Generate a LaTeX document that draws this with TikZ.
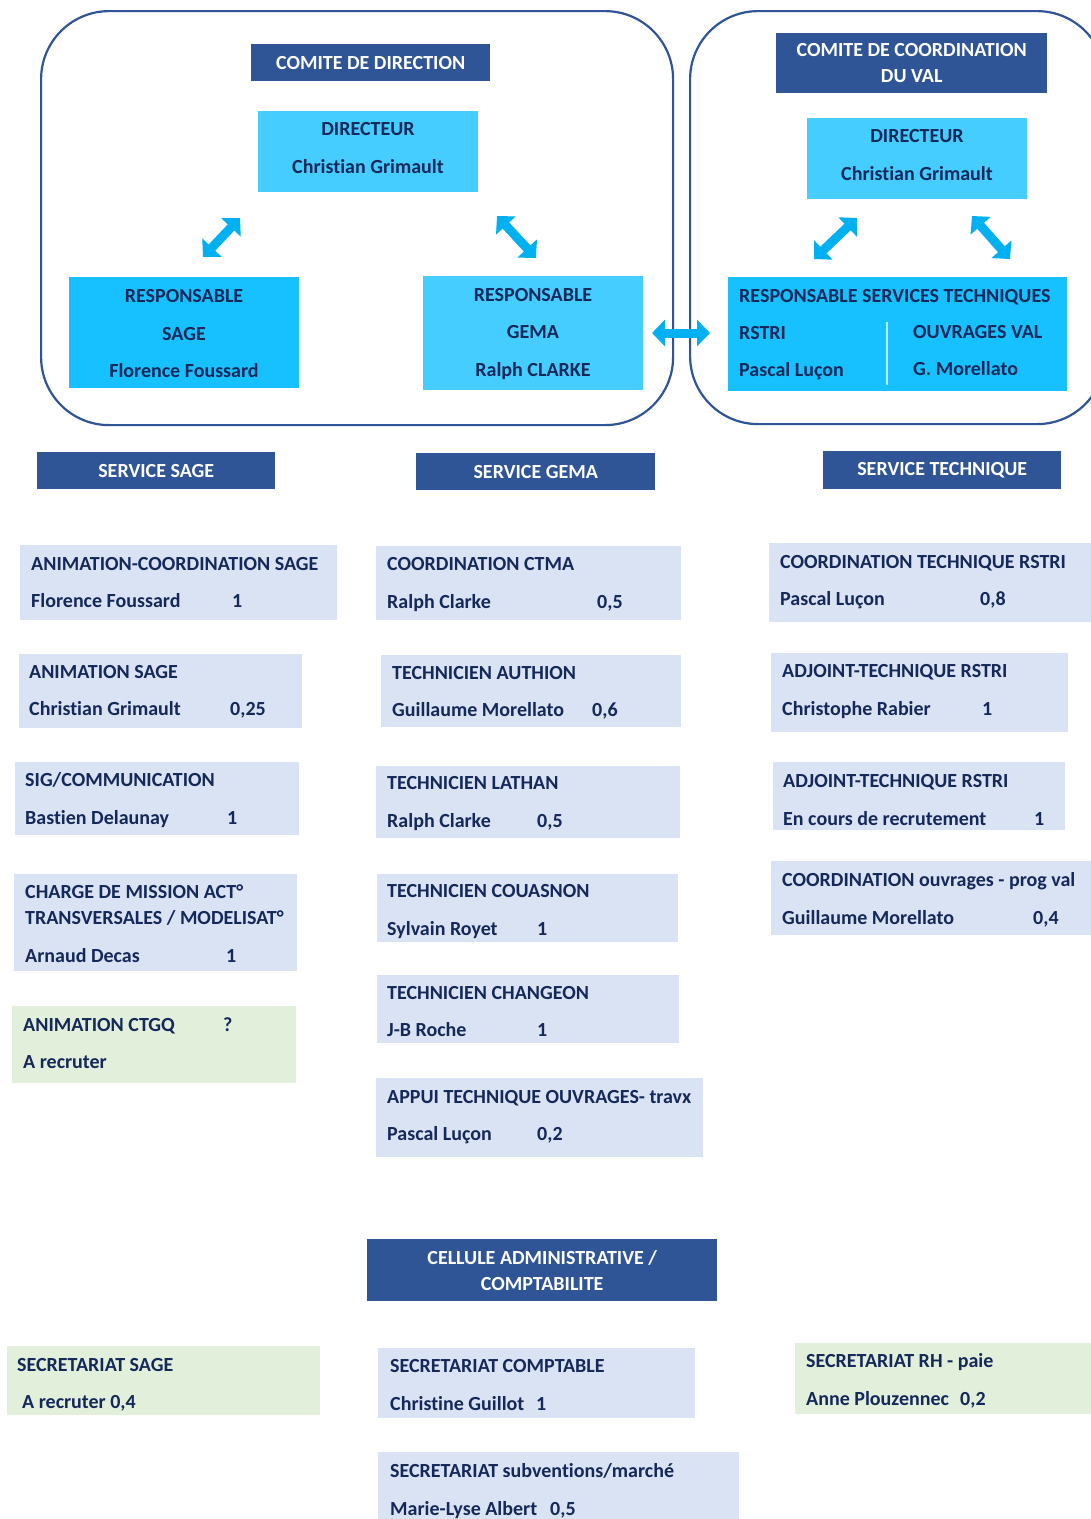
\documentclass[tikz,border=0pt]{standalone}
\usepackage{fontspec}
\setmainfont{Carlito}[Ligatures=NoCommon]
\usepackage{xcolor}
\usetikzlibrary{arrows.meta}
\definecolor{hdrblue}{HTML}{2F5597}
\definecolor{cyanlt}{HTML}{45CDFF}
\definecolor{cyanbr}{HTML}{17C1FF}
\definecolor{arrowblue}{HTML}{00B0F0}
\definecolor{jobblue}{HTML}{DAE3F3}
\definecolor{recgreen}{HTML}{E2EFDA}
\definecolor{navy}{HTML}{14285A}
\newcommand\orgfont{\bfseries\fontsize{20}{26}\selectfont}

\begin{document}
\begin{tikzpicture}[x=1pt,y=-1pt]
  \tikzset{frame/.style={draw=hdrblue,line width=2.2pt,rounded corners=68pt,anchor=north west,inner sep=0pt}}
  \tikzset{hdr/.style={fill=hdrblue,text=white,font=\orgfont,align=center,anchor=north west,inner sep=0pt}}
  \tikzset{orgbox/.style={anchor=north west,inner sep=0pt,outer sep=0pt}}
  \tikzset{lbl/.style={text=navy,font=\orgfont,inner sep=0pt,anchor=base west}}
  \tikzset{clbl/.style={text=navy,font=\orgfont,inner sep=0pt,anchor=base}}
  \tikzset{dblarrow/.style={draw=arrowblue,line width=9pt,{Triangle[width=26pt,length=13pt]}-{Triangle[width=26pt,length=13pt]}}}
  \useasboundingbox (0,0) rectangle (1091,1519);
  \fill[white] (0,0) rectangle (1091,1519);

  \node[frame,minimum width=632pt,minimum height=414pt] (fdir) at (40,10) {};
  \node[frame,minimum width=415pt,minimum height=413pt] (fval) at (689,10) {};

  \node[hdr,minimum width=239pt,minimum height=37pt] (hdir) at (251,44) {COMITE DE DIRECTION};
  \node[orgbox,fill=cyanlt,minimum width=220pt,minimum height=81pt] (dir1) at (258,111) {};
  \node[clbl] (dir1a) at (368,135) {DIRECTEUR};
  \node[clbl] (dir1b) at (368,173) {Christian Grimault};
  \node[orgbox,fill=cyanbr,minimum width=230pt,minimum height=111pt] (rsage) at (69,277) {};
  \node[clbl] (rsagea) at (184,302) {RESPONSABLE};
  \node[clbl] (rsageb) at (184,340) {SAGE};
  \node[clbl] (rsagec) at (184,377) {Florence Foussard};
  \node[orgbox,fill=cyanlt,minimum width=220pt,minimum height=114pt] (rgema) at (423,276) {};
  \node[clbl] (rgemaa) at (533,301) {RESPONSABLE};
  \node[clbl] (rgemab) at (533,338) {GEMA};
  \node[clbl] (rgemac) at (533,376) {Ralph CLARKE};

  \node[hdr,minimum width=271pt,minimum height=60pt] (hval) at (776,33) {COMITE DE COORDINATION\\DU VAL};
  \node[orgbox,fill=cyanlt,minimum width=220pt,minimum height=81pt] (dir2) at (807,118) {};
  \node[clbl] (dir2a) at (917,142) {DIRECTEUR};
  \node[clbl] (dir2b) at (917,180) {Christian Grimault};
  \node[orgbox,fill=cyanbr,minimum width=339pt,minimum height=114pt] (rtech) at (728,277) {};
  \node[lbl] (rtecha) at (739,302) {RESPONSABLE SERVICES TECHNIQUES};
  \node[lbl] (rtechb) at (739,339) {RSTRI};
  \node[lbl] (rtechc) at (739,376) {Pascal Luçon};
  \node[lbl] (rtechd) at (913,338) {OUVRAGES VAL};
  \node[lbl] (rteche) at (913,375) {G. Morellato};
  \draw[draw=white!70!cyanbr,line width=1.5pt] (887,322) -- (887,385);

  \coordinate (a1s) at (203,257);
  \coordinate (a1e) at (240,218);
  \coordinate (a2s) at (497,216);
  \coordinate (a2e) at (536,258);
  \coordinate (a3s) at (814,259);
  \coordinate (a3e) at (857,218);
  \coordinate (a4s) at (972,216);
  \coordinate (a4e) at (1010,259);
  \draw[dblarrow] (a1s) -- (a1e);
  \draw[dblarrow] (a2s) -- (a2e);
  \draw[dblarrow] (a3s) -- (a3e);
  \draw[dblarrow] (a4s) -- (a4e);
  \draw[dblarrow,shorten <=9pt,shorten >=18pt] (rgema.east) -- (rgema.east -| rtech.west);

  \node[hdr,minimum width=238pt,minimum height=37pt] (ssage) at (37,452) {SERVICE SAGE};
  \node[hdr,minimum width=239pt,minimum height=37pt] (sgema) at (416,453) {SERVICE GEMA};
  \node[hdr,minimum width=238pt,minimum height=38pt] (stech) at (823,451) {SERVICE TECHNIQUE};

  \node[orgbox,fill=jobblue,minimum width=317pt,minimum height=75pt] (j1) at (20,545) {};
  \node[lbl] (j1a) at (31,570) {ANIMATION-COORDINATION SAGE};
  \node[lbl] (j1b) at (31,607) {Florence Foussard};
  \node[lbl] (j1c) at (232,607) {1};
  \node[orgbox,fill=jobblue,minimum width=283pt,minimum height=74pt] (j2) at (19,654) {};
  \node[lbl] (j2a) at (29,678) {ANIMATION SAGE};
  \node[lbl] (j2b) at (29,715) {Christian Grimault};
  \node[lbl] (j2c) at (230,715) {0,25};
  \node[orgbox,fill=jobblue,minimum width=284pt,minimum height=73pt] (j3) at (15,762) {};
  \node[lbl] (j3a) at (25,786) {SIG/COMMUNICATION};
  \node[lbl] (j3b) at (25,824) {Bastien Delaunay};
  \node[lbl] (j3c) at (227,824) {1};
  \node[orgbox,fill=jobblue,minimum width=283pt,minimum height=97pt] (j4) at (14,874) {};
  \node[lbl] (j4a) at (25,898) {CHARGE DE MISSION ACT°};
  \node[lbl] (j4b) at (25,924) {TRANSVERSALES / MODELISAT°};
  \node[lbl] (j4c) at (25,962) {Arnaud Decas};
  \node[lbl] (j4d) at (226,962) {1};
  \node[orgbox,fill=recgreen,minimum width=284pt,minimum height=77pt] (j5) at (12,1006) {};
  \node[lbl] (j5a) at (23,1031) {ANIMATION CTGQ};
  \node[lbl] (j5b) at (223,1031) {?};
  \node[lbl] (j5c) at (23,1068) {A recruter};

  \node[orgbox,fill=jobblue,minimum width=305pt,minimum height=74pt] (m1) at (376,546) {};
  \node[lbl] (m1a) at (387,570) {COORDINATION CTMA};
  \node[lbl] (m1b) at (387,608) {Ralph Clarke};
  \node[lbl] (m1c) at (597,608) {0,5};
  \node[orgbox,fill=jobblue,minimum width=300pt,minimum height=72pt] (m2) at (381,655) {};
  \node[lbl] (m2a) at (392,679) {TECHNICIEN AUTHION};
  \node[lbl] (m2b) at (392,716) {Guillaume Morellato};
  \node[lbl] (m2c) at (592,716) {0,6};
  \node[orgbox,fill=jobblue,minimum width=304pt,minimum height=72pt] (m3) at (376,766) {};
  \node[lbl] (m3a) at (387,789) {TECHNICIEN LATHAN};
  \node[lbl] (m3b) at (387,827) {Ralph Clarke};
  \node[lbl] (m3c) at (537,827) {0,5};
  \node[orgbox,fill=jobblue,minimum width=301pt,minimum height=68pt] (m4) at (377,874) {};
  \node[lbl] (m4a) at (387,897) {TECHNICIEN COUASNON};
  \node[lbl] (m4b) at (387,935) {Sylvain Royet};
  \node[lbl] (m4c) at (537,935) {1};
  \node[orgbox,fill=jobblue,minimum width=302pt,minimum height=68pt] (m5) at (377,975) {};
  \node[lbl] (m5a) at (387,999) {TECHNICIEN CHANGEON};
  \node[lbl] (m5b) at (387,1036) {J-B Roche};
  \node[lbl] (m5c) at (537,1036) {1};
  \node[orgbox,fill=jobblue,minimum width=327pt,minimum height=79pt] (m6) at (376,1078) {};
  \node[lbl] (m6a) at (387,1103) {APPUI TECHNIQUE OUVRAGES- travx};
  \node[lbl] (m6b) at (387,1140) {Pascal Luçon};
  \node[lbl] (m6c) at (537,1140) {0,2};

  \node[orgbox,fill=jobblue,minimum width=330pt,minimum height=79pt] (r1) at (769,543) {};
  \node[lbl] (r1a) at (780,568) {COORDINATION TECHNIQUE RSTRI};
  \node[lbl] (r1b) at (780,605) {Pascal Luçon};
  \node[lbl] (r1c) at (980,605) {0,8};
  \node[orgbox,fill=jobblue,minimum width=297pt,minimum height=79pt] (r2) at (771,653) {};
  \node[lbl] (r2a) at (782,677) {ADJOINT-TECHNIQUE RSTRI};
  \node[lbl] (r2b) at (782,715) {Christophe Rabier};
  \node[lbl] (r2c) at (982,715) {1};
  \node[orgbox,fill=jobblue,minimum width=292pt,minimum height=68pt] (r3) at (773,762) {};
  \node[lbl] (r3a) at (783,787) {ADJOINT-TECHNIQUE RSTRI};
  \node[lbl] (r3b) at (783,825) {En cours de recrutement};
  \node[lbl] (r3c) at (1034,825) {1};
  \node[orgbox,fill=jobblue,minimum width=330pt,minimum height=74pt] (r4) at (771,861) {};
  \node[lbl] (r4a) at (782,886) {COORDINATION ouvrages - prog val};
  \node[lbl] (r4b) at (782,924) {Guillaume Morellato};
  \node[lbl] (r4c) at (1033,924) {0,4};

  \node[hdr,minimum width=350pt,minimum height=62pt] (cadm) at (367,1239) {CELLULE ADMINISTRATIVE /\\COMPTABILITE};

  \node[orgbox,fill=recgreen,minimum width=313pt,minimum height=69pt] (b1) at (7,1346) {};
  \node[lbl] (b1a) at (17,1371) {SECRETARIAT SAGE};
  \node[lbl] (b1b) at (22,1408) {A recruter 0,4};
  \node[orgbox,fill=jobblue,minimum width=317pt,minimum height=70pt] (b2) at (378,1348) {};
  \node[lbl] (b2a) at (390,1372) {SECRETARIAT COMPTABLE};
  \node[lbl] (b2b) at (390,1410) {Christine Guillot};
  \node[lbl] (b2c) at (536,1410) {1};
  \node[orgbox,fill=recgreen,minimum width=305pt,minimum height=71pt] (b3) at (795,1343) {};
  \node[lbl] (b3a) at (806,1367) {SECRETARIAT RH - paie};
  \node[lbl] (b3b) at (806,1405) {Anne Plouzennec};
  \node[lbl] (b3c) at (960,1405) {0,2};
  \node[orgbox,fill=jobblue,minimum width=361pt,minimum height=80pt] (b4) at (378,1452) {};
  \node[lbl] (b4a) at (390,1477) {SECRETARIAT subventions/marché};
  \node[lbl] (b4b) at (390,1515) {Marie-Lyse Albert};
  \node[lbl] (b4c) at (550,1515) {0,5};
\end{tikzpicture}
\end{document}
